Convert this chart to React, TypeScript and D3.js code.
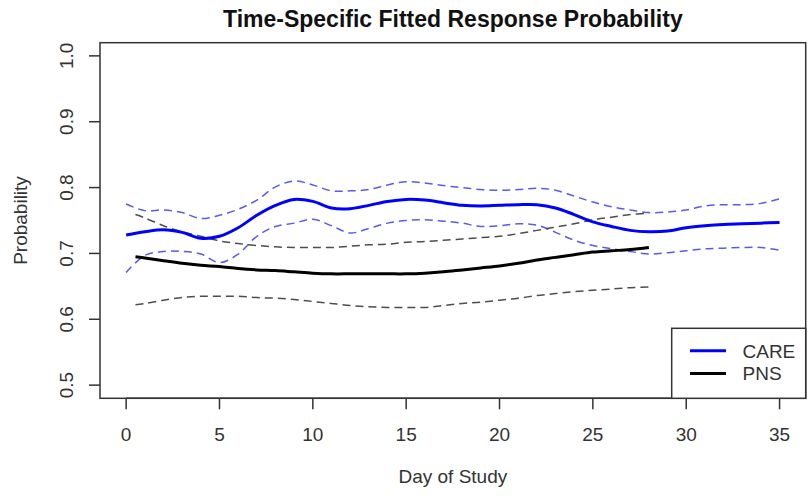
import { useEffect, useRef } from "react"
import * as d3 from "d3"

// Day of study for each series
const careDays = [0, 1, 2, 3, 4, 5, 6, 7, 8, 9, 10, 11, 12, 13, 14, 15, 16, 17, 18, 19, 20, 21, 22, 23, 24, 25, 26, 27, 28, 29, 30, 31, 32, 33, 34, 35]
const pnsDays = [0.5, 1, 2, 3, 4, 5, 6, 7, 8, 9, 10, 11, 12, 13, 14, 15, 16, 17, 18, 19, 20, 21, 22, 23, 24, 25, 26, 27, 28]

// CARE fitted probability with pointwise bands
const careFit = [0.728, 0.733, 0.736, 0.732, 0.723, 0.726, 0.739, 0.758, 0.773, 0.782, 0.779, 0.769, 0.768, 0.773, 0.779, 0.782, 0.781, 0.777, 0.773, 0.772, 0.773, 0.774, 0.774, 0.769, 0.759, 0.748, 0.741, 0.735, 0.733, 0.734, 0.739, 0.742, 0.744, 0.745, 0.746, 0.747]
const careUpper = [0.775, 0.765, 0.766, 0.762, 0.753, 0.758, 0.767, 0.781, 0.801, 0.810, 0.804, 0.795, 0.795, 0.797, 0.804, 0.809, 0.807, 0.803, 0.800, 0.797, 0.796, 0.797, 0.799, 0.796, 0.787, 0.778, 0.771, 0.766, 0.762, 0.763, 0.766, 0.772, 0.774, 0.774, 0.776, 0.783]
const careLower = [0.671, 0.697, 0.703, 0.703, 0.699, 0.686, 0.699, 0.726, 0.741, 0.746, 0.752, 0.742, 0.731, 0.738, 0.746, 0.750, 0.751, 0.749, 0.746, 0.741, 0.742, 0.745, 0.743, 0.732, 0.720, 0.712, 0.707, 0.703, 0.699, 0.701, 0.704, 0.707, 0.708, 0.709, 0.709, 0.705]

// PNS fitted probability with pointwise bands
const pnsFit = [0.695, 0.693, 0.689, 0.685, 0.682, 0.680, 0.677, 0.675, 0.674, 0.672, 0.670, 0.669, 0.669, 0.669, 0.669, 0.669, 0.670, 0.672, 0.675, 0.678, 0.681, 0.685, 0.690, 0.694, 0.698, 0.702, 0.704, 0.706, 0.709]
const pnsUpper = [0.759, 0.754, 0.742, 0.733, 0.726, 0.719, 0.715, 0.712, 0.710, 0.709, 0.709, 0.709, 0.711, 0.713, 0.714, 0.717, 0.718, 0.720, 0.722, 0.724, 0.726, 0.730, 0.735, 0.740, 0.745, 0.751, 0.755, 0.759, 0.761]
const pnsLower = [0.622, 0.624, 0.629, 0.633, 0.635, 0.635, 0.635, 0.633, 0.632, 0.630, 0.627, 0.624, 0.621, 0.619, 0.618, 0.618, 0.618, 0.621, 0.624, 0.626, 0.629, 0.632, 0.636, 0.639, 0.642, 0.644, 0.646, 0.648, 0.649]

const xTicks = [0, 5, 10, 15, 20, 25, 30, 35]
const yTicks = [0.5, 0.6, 0.7, 0.8, 0.9, 1.0]
const legendLabels = ["CARE", "PNS"]
const legendColors = ["#0000ff", "#000000"]

const W = 810
const H = 496
const font = "'Liberation Sans', Arial, sans-serif"

export default function App() {
  const svgRef = useRef<SVGSVGElement>(null)

  useEffect(() => {
    if (!svgRef.current) return
    const svg = d3.select(svgRef.current)
    svg.selectAll("*").remove()

    const left = 100
    const right = 805.7
    const top = 42.7
    const bottom = 398.3

    // R's default 4% axis expansion
    const x = d3.scaleLinear().domain([-1.4, 36.4]).range([left, right])
    const y = d3.scaleLinear().domain([0.48, 1.02]).range([bottom, top])

    svg.append("rect").attr("width", W).attr("height", H).attr("fill", "#fff")

    const line = (days: number[], vals: number[]) =>
      d3
        .line<number>()
        .x((_, i) => x(days[i]))
        .y((d) => y(d))
        .curve(d3.curveCatmullRom)(vals)

    // confidence bands
    const bands = [
      { days: careDays, vals: careUpper, color: "#5a5aee" },
      { days: careDays, vals: careLower, color: "#5a5aee" },
      { days: pnsDays, vals: pnsUpper, color: "#4d4d4d" },
      { days: pnsDays, vals: pnsLower, color: "#4d4d4d" },
    ]
    bands.forEach((b) => {
      svg
        .append("path")
        .attr("d", line(b.days, b.vals))
        .attr("fill", "none")
        .attr("stroke", b.color)
        .attr("stroke-width", 1.5)
        .attr("stroke-dasharray", "8,5")
    })

    // fitted lines
    svg
      .append("path")
      .attr("d", line(careDays, careFit))
      .attr("fill", "none")
      .attr("stroke", "#0000ff")
      .attr("stroke-width", 3)
    svg
      .append("path")
      .attr("d", line(pnsDays, pnsFit))
      .attr("fill", "none")
      .attr("stroke", "#000")
      .attr("stroke-width", 3)

    // frame
    svg
      .append("rect")
      .attr("x", left)
      .attr("y", top)
      .attr("width", right - left)
      .attr("height", bottom - top)
      .attr("fill", "none")
      .attr("stroke", "#333")
      .attr("stroke-width", 1.5)

    // x axis
    const xAxis = svg.append("g")
    xAxis
      .append("line")
      .attr("x1", x(xTicks[0]))
      .attr("x2", x(xTicks[xTicks.length - 1]))
      .attr("y1", bottom)
      .attr("y2", bottom)
      .attr("stroke", "#333")
      .attr("stroke-width", 1.5)
    xTicks.forEach((t) => {
      xAxis
        .append("line")
        .attr("x1", x(t))
        .attr("x2", x(t))
        .attr("y1", bottom)
        .attr("y2", bottom + 11)
        .attr("stroke", "#333")
        .attr("stroke-width", 1.5)
      xAxis
        .append("text")
        .attr("x", x(t))
        .attr("y", 440.5)
        .attr("text-anchor", "middle")
        .attr("fill", "#333")
        .style("font-family", font)
        .style("font-size", "19px")
        .text(String(t))
    })

    // y axis
    const yAxis = svg.append("g")
    yTicks.forEach((t) => {
      yAxis
        .append("line")
        .attr("x1", left - 11)
        .attr("x2", left)
        .attr("y1", y(t))
        .attr("y2", y(t))
        .attr("stroke", "#333")
        .attr("stroke-width", 1.5)
      yAxis
        .append("text")
        .attr("transform", `translate(72.5,${y(t)}) rotate(-90)`)
        .attr("text-anchor", "middle")
        .attr("fill", "#333")
        .style("font-family", font)
        .style("font-size", "19px")
        .text(t.toFixed(1))
    })

    // titles
    svg
      .append("text")
      .attr("x", (left + right) / 2)
      .attr("y", 27)
      .attr("text-anchor", "middle")
      .attr("fill", "#111")
      .style("font-family", font)
      .style("font-size", "23px")
      .style("font-weight", "bold")
      .text("Time-Specific Fitted Response Probability")
    svg
      .append("text")
      .attr("x", (left + right) / 2)
      .attr("y", 483)
      .attr("text-anchor", "middle")
      .attr("fill", "#333")
      .style("font-family", font)
      .style("font-size", "19px")
      .text("Day of Study")
    svg
      .append("text")
      .attr("transform", `translate(27,${(top + bottom) / 2}) rotate(-90)`)
      .attr("text-anchor", "middle")
      .attr("fill", "#333")
      .style("font-family", font)
      .style("font-size", "19px")
      .text("Probability")

    // legend, bottom right
    const lg = svg.append("g")
    lg.append("rect")
      .attr("x", 671.7)
      .attr("y", 328.3)
      .attr("width", right - 671.7)
      .attr("height", bottom - 328.3)
      .attr("fill", "#fff")
      .attr("stroke", "#333")
      .attr("stroke-width", 1.5)
    legendLabels.forEach((label, i) => {
      const ly = 350.7 + i * 22.7
      lg.append("line")
        .attr("x1", 690)
        .attr("x2", 726)
        .attr("y1", ly)
        .attr("y2", ly)
        .attr("stroke", legendColors[i])
        .attr("stroke-width", 3)
      lg.append("text")
        .attr("x", 742.5)
        .attr("y", ly + 7)
        .attr("fill", "#333")
        .style("font-family", font)
        .style("font-size", "19px")
        .text(label)
    })
  }, [])

  return <svg ref={svgRef} width={W} height={H} style={{ position: "absolute", left: 0, top: 0, display: "block" }} />
}
